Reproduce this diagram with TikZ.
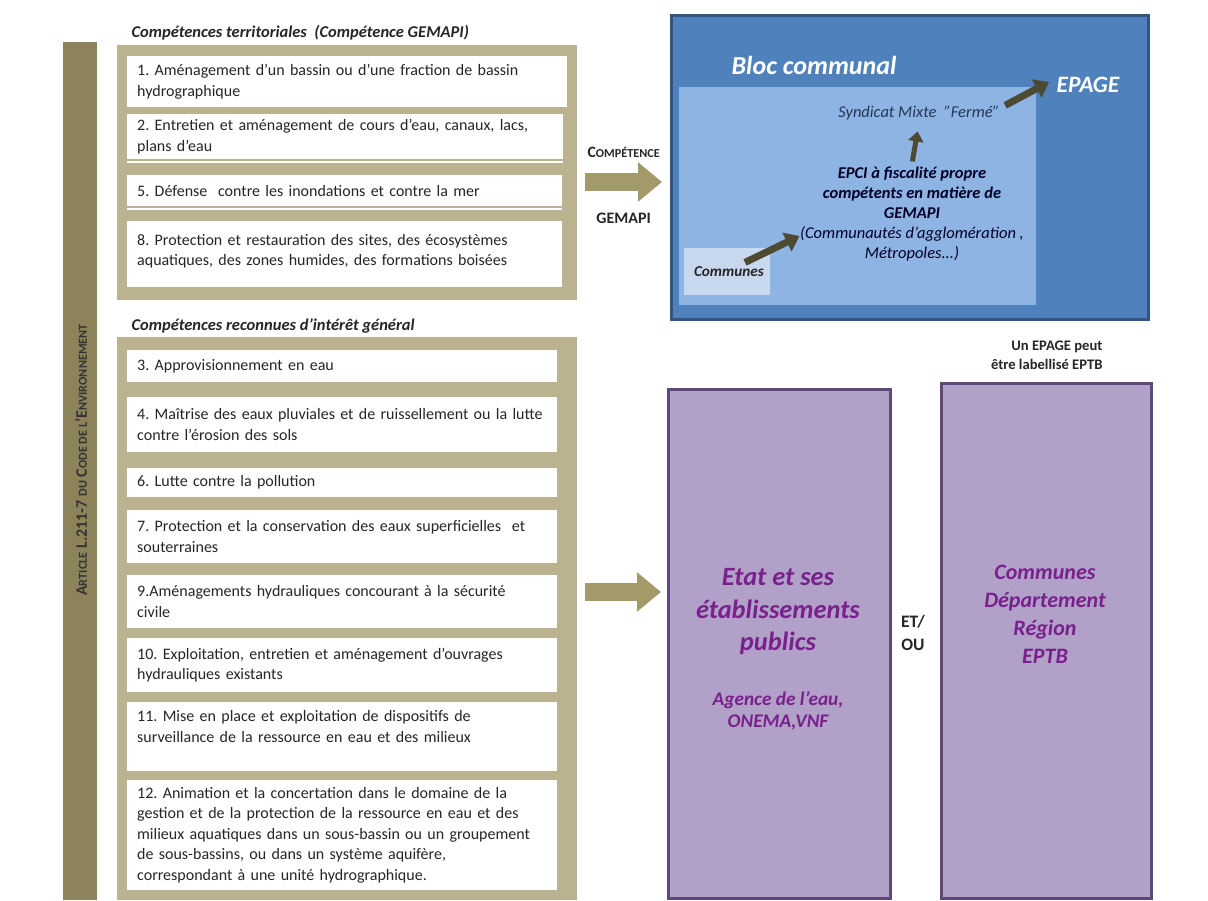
\documentclass[tikz,border=0pt]{standalone}
\usepackage{fontspec}
\setmainfont{Carlito}
\usetikzlibrary{arrows.meta,calc}
\definecolor{khaki}{RGB}{187,178,143}
\definecolor{khakiarrow}{RGB}{163,154,106}
\definecolor{khakidark}{RGB}{140,131,90}
\definecolor{bluedark}{RGB}{79,129,189}
\definecolor{blueborder}{RGB}{52,85,128}
\definecolor{bluemid}{RGB}{142,180,227}
\definecolor{bluelight}{RGB}{200,216,238}
\definecolor{purplefill}{RGB}{177,160,199}
\definecolor{purpleborder}{RGB}{95,73,122}
\definecolor{purpletext}{RGB}{122,32,140}
\definecolor{darkarrow}{RGB}{77,74,50}
\definecolor{navy}{RGB}{36,55,85}
\newcommand{\mysmc}[1]{{\fontsize{12.2}{13}\selectfont #1}}
\frenchspacing
\begin{document}
\begin{tikzpicture}[x=1pt,y=-1pt,
  frame/.style={fill=khaki, draw=none, anchor=north west, inner sep=0pt},
  item/.style={fill=white, anchor=north west, align=left, inner xsep=10pt, inner ysep=0pt,
    font=\fontsize{16}{20.5}\selectfont, text=black!85},
  title/.style={anchor=west, font=\bfseries\itshape\fontsize{16.5}{18}\selectfont, text=black!85},
  kar/.style={draw=khakiarrow, line width=18pt, -{Triangle[length=24pt,width=38pt]}},
  darr/.style={draw=darkarrow, line width=7pt, -{Triangle[length=14pt,width=20pt]}},
  darrs/.style={draw=darkarrow, line width=5pt, -{Triangle[length=10pt,width=15pt]}},
  pbox/.style={draw=purpleborder, line width=3pt, fill=purplefill, anchor=north west},
  ptext/.style={text=purpletext, align=center}
]
\useasboundingbox (0,0) rectangle (1208,900);
\fill[white] (0,0) rectangle (1208,900);

% left vertical bar
\node[fill=khakidark, anchor=north west, inner sep=0pt, minimum width=34pt, minimum height=858pt] (bar) at (63,42) {};
\node[rotate=90, font=\bfseries\fontsize{16}{18}\selectfont, text=black!80] (lbl) at (81,460)
  {A\mysmc{RTICLE} L.211-7 \mysmc{DU} C\mysmc{ODE DE L}'E\mysmc{NVIRONNEMENT}};

% section 1
\node[title] (t1) at (128,33) {Compétences territoriales\ \ (Compétence GEMAPI)};
\node[frame, minimum width=460pt, minimum height=255pt] (f1) at (117,45) {};
\node[item, text width=420pt, minimum height=51pt] (i1) at (127,56) {1. Aménagement d'un bassin ou d'une fraction de bassin\\hydrographique};
\node[item, text width=416pt, minimum height=45pt] (i2) at (127,114) {2. Entretien et aménagement de cours d'eau, canaux, lacs,\\plans d'eau};
\fill[white] (127,161) rectangle (563,163);
\node[item, text width=415pt, minimum height=31pt] (i5) at (127,175) {5. Défense\ \ contre les inondations et contre la mer};
\fill[white] (127,208) rectangle (562,210);
\node[item, text width=415pt, minimum height=66pt] (i8) at (127,221) {8. Protection et restauration des sites, des écosystèmes\\aquatiques, des zones humides, des formations boisées\\[-12pt]\mbox{}};

% section 2
\node[title] (t2) at (128,326) {Compétences reconnues d'intérêt général};
\node[frame, minimum width=460pt, minimum height=563pt] (f2) at (117,337) {};
\node[item, text width=410pt, minimum height=32pt] (i3) at (127,350) {3. Approvisionnement en eau};
\node[item, text width=410pt, minimum height=55pt] (i4) at (127,397) {4. Maîtrise des eaux pluviales et de ruissellement ou la lutte\\contre l'érosion des sols};
\node[item, text width=410pt, minimum height=29pt] (i6) at (127,468) {6. Lutte contre la pollution};
\node[item, text width=410pt, minimum height=53pt] (i7) at (127,510) {7. Protection et la conservation des eaux superficielles\ \ et\\souterraines};
\node[item, text width=410pt, minimum height=53pt] (i9) at (127,575) {9.Aménagements hydrauliques concourant à la sécurité\\civile};
\node[item, text width=410pt, minimum height=54pt] (i10) at (127,638) {10. Exploitation, entretien et aménagement d'ouvrages\\hydrauliques existants};
\node[item, text width=410pt, minimum height=69pt] (i11) at (127,702) {11. Mise en place et exploitation de dispositifs de\\surveillance de la ressource en eau et des milieux\\\mbox{}};
\node[item, text width=410pt, minimum height=110pt] (i12) at (127,780) {12. Animation et la concertation dans le domaine de la\\gestion et de la protection de la ressource en eau et des\\milieux aquatiques dans un sous-bassin ou un groupement\\de sous-bassins, ou dans un système aquifère,\\correspondant à une unité hydrographique.};

% blue block
\node[draw=blueborder, line width=2.5pt, fill=bluedark, anchor=north west, minimum width=477pt, minimum height=304pt] (bloc) at (670,14) {};
\node[fill=bluemid, anchor=north west, inner sep=0pt, minimum width=357pt, minimum height=218pt] (inner) at (679,87) {};
\node[fill=bluelight, anchor=north west, inner sep=0pt, minimum width=86pt, minimum height=47pt] (combox) at (684,248) {};
\node[font=\bfseries\itshape\fontsize{26}{29}\selectfont, text=white] (blocl) at (814,65) {Bloc communal};
\node[font=\bfseries\itshape\fontsize{23.5}{26}\selectfont, text=white] (epage) at (1088,85) {EPAGE};
\node[font=\itshape\fontsize{16.5}{18}\selectfont, text=navy] (synd) at (919,113) {Syndicat Mixte\ \ "Fermé"};
\node[font=\itshape\fontsize{16.5}{20}\selectfont, text=black!85!blue, align=center] (epci) at (912,214)
  {{\bfseries EPCI à fiscalité propre}\\{\bfseries compétents en matière de}\\{\bfseries GEMAPI}\\(Communautés d'agglomération ,\\Métropoles...)};
\node[font=\bfseries\itshape\fontsize{15.2}{17}\selectfont, text=black!85] (comm) at (729,272) {Communes};
\draw[darr] ($(comm.north)+(16,-1)$) -- ($(epci.west)+(3,22)$);
\draw[darrs, shorten <=2pt, shorten >=8pt] (epci.north) -- (synd.south);
\draw[darr] ($(synd.north east)+(2,3)$) -- ($(epage.west)+(-4,-3)$);

% arrow 1
\coordinate (a1) at (600,182);
\draw[kar, shorten <=8pt, shorten >=8pt] (f1.east |- a1) -- (bloc.west |- a1)
  node[midway, above=12pt, font=\bfseries\fontsize{15.8}{16}\selectfont, text=black!85] (lc) {C{\fontsize{12.2}{13}\selectfont OMPÉTENCE}}
  node[midway, below=19pt, font=\bfseries\fontsize{16}{17}\selectfont, text=black!85] (lg) {GEMAPI};

% purple boxes
\node[pbox, minimum width=222pt, minimum height=509pt] (p1) at (667,388) {};
\node[pbox, minimum width=210pt, minimum height=515pt] (p2) at (940,382) {};
\node[ptext, font=\bfseries\itshape\fontsize{26.4}{32.5}\selectfont] (etat) at (778,612) {Etat et ses\\établissements\\publics};
\node[ptext, font=\bfseries\itshape\fontsize{19.3}{22}\selectfont] (agence) at (778,711) {Agence de l'eau,\\ONEMA,VNF};
\node[ptext, font=\bfseries\itshape\fontsize{22}{28}\selectfont] (comd) at (1045,614) {Communes\\Département\\Région\\EPTB};
\node[font=\bfseries\fontsize{17.5}{23}\selectfont, align=center, text=black!85] (etou) at (913,633) {ET/\\OU};
\node[anchor=east, font=\bfseries\fontsize{14.6}{19}\selectfont, align=right, text=black!85] (unep) at (1106,355) {Un EPAGE peut\\être labellisé EPTB};

% arrow 2
\coordinate (a2) at (600,592);
\draw[kar, shorten <=8pt, shorten >=6pt] (f2.east |- a2) -- (p1.west |- a2);
\end{tikzpicture}
\end{document}
